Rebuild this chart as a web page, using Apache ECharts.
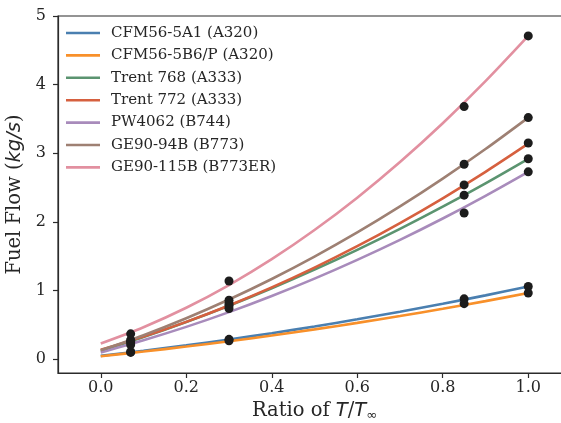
<!DOCTYPE html>
<html>
<head>
<meta charset="utf-8">
<script src="https://cdn.jsdelivr.net/npm/echarts@6/dist/echarts.min.js"></script>
<style>html,body{margin:0;padding:0;background:#fff;overflow:hidden}#c{width:561px;height:423px}</style>
</head>
<body>
<div id="c"></div>
<script>
// Data
var engines = ['CFM56-5A1 (A320)', 'CFM56-5B6/P (A320)', 'Trent 768 (A333)', 'Trent 772 (A333)', 'PW4062 (B744)', 'GE90-94B (B773)', 'GE90-115B (B773ER)'];
var xFit = [0, 0.1, 0.2, 0.3, 0.4, 0.5, 0.6, 0.7, 0.8, 0.9, 1.0];
var xPts = [0.07, 0.3, 0.85, 1.0];
var fitCFM565A1 = [0.05, 0.123, 0.203, 0.288, 0.380, 0.478, 0.582, 0.692, 0.808, 0.931, 1.06];
var fitCFM565B6 = [0.045, 0.112, 0.185, 0.262, 0.346, 0.435, 0.530, 0.630, 0.735, 0.847, 0.965];
var fitTrent768 = [0.12, 0.323, 0.542, 0.779, 1.034, 1.305, 1.594, 1.899, 2.222, 2.563, 2.92];
var fitTrent772 = [0.14, 0.330, 0.545, 0.784, 1.047, 1.335, 1.647, 1.984, 2.345, 2.730, 3.14];
var fitPW4062 = [0.10, 0.277, 0.472, 0.687, 0.922, 1.175, 1.448, 1.739, 2.050, 2.381, 2.73];
var fitGE9094B = [0.13, 0.350, 0.597, 0.870, 1.169, 1.495, 1.847, 2.226, 2.631, 3.062, 3.52];
var fitGE90115B = [0.23, 0.467, 0.750, 1.081, 1.458, 1.883, 2.354, 2.873, 3.438, 4.051, 4.71];
var ptsCFM565A1 = [0.11, 0.29, 0.88, 1.06];
var ptsCFM565B6 = [0.10, 0.27, 0.81, 0.965];
var ptsTrent768 = [0.25, 0.78, 2.39, 2.92];
var ptsTrent772 = [0.26, 0.81, 2.54, 3.15];
var ptsPW4062 = [0.21, 0.74, 2.13, 2.73];
var ptsGE9094B = [0.28, 0.86, 2.84, 3.52];
var ptsGE90115B = [0.37, 1.14, 3.68, 4.71];
var xTicks = [0, 0.2, 0.4, 0.6, 0.8, 1.0];
var yTicks = [0, 1, 2, 3, 4, 5];

var fits = [fitCFM565A1, fitCFM565B6, fitTrent768, fitTrent772, fitPW4062, fitGE9094B, fitGE90115B];
var pts = [ptsCFM565A1, ptsCFM565B6, ptsTrent768, ptsTrent772, ptsPW4062, ptsGE9094B, ptsGE90115B];
var colors = ['#4a7fb0', '#f8902a', '#5b9470', '#d6603f', '#a88bbb', '#9e8073', '#e290a0'];

function zip(xs, ys) { return xs.map(function (x, i) { return [x, ys[i]]; }); }

var serif = 'DejaVu Serif';
var series = [];
engines.forEach(function (name, i) {
  series.push({
    name: name, type: 'line', data: zip(xFit, fits[i]), smooth: 0.3,
    showSymbol: false, symbol: 'none',
    lineStyle: { color: colors[i], width: 2.6 }, itemStyle: { color: colors[i] },
    z: 2
  });
});
engines.forEach(function (name, i) {
  series.push({
    name: 'pts' + i, type: 'scatter', data: zip(xPts, pts[i]),
    symbolSize: 9, itemStyle: { color: '#1c1c1c', opacity: 1 }, z: 3
  });
});

var chart = echarts.init(document.getElementById('c'), null, { renderer: 'canvas' });
chart.setOption({
  animation: false,
  backgroundColor: '#fff',
  grid: { left: 58, top: 16, width: 513, height: 357, show: true, borderColor: '#2b2b2b', borderWidth: 1.2,
          containLabel: false, outerBoundsMode: 'none' },
  legend: {
    data: engines, orient: 'vertical', left: 61, top: 20,
    icon: 'rect', itemWidth: 34, itemHeight: 2.6, itemGap: 6.4,
    textStyle: { fontFamily: serif, fontSize: 15, color: '#262626', lineHeight: 16, padding: [0, 0, 0, 6] }
  },
  xAxis: {
    type: 'value', min: -0.1, max: 1.1,
    name: 'Ratio of {i|T}/{i|T}{s|∞}', nameLocation: 'middle', nameGap: 26,
    nameTextStyle: { fontFamily: serif, fontSize: 19.5, color: '#262626',
      rich: { i: { fontFamily: 'DejaVu Sans', fontStyle: 'italic', fontSize: 19.5, color: '#262626' },
              s: { fontFamily: 'DejaVu Sans', fontSize: 13, color: '#262626', padding: [9, 0, 0, 0] } } },
    axisLine: { show: true, onZero: false, lineStyle: { color: '#2b2b2b', width: 1.2 } },
    axisTick: { show: true, length: 5, customValues: xTicks, lineStyle: { color: '#2b2b2b', width: 1.2 } },
    axisLabel: { customValues: xTicks, fontFamily: serif, fontSize: 16, color: '#262626', margin: 7,
      formatter: function (v) { return v.toFixed(1); } },
    splitLine: { show: false }
  },
  yAxis: {
    type: 'value', min: -0.2, max: 5,
    name: 'Fuel Flow ({i|kg/s})', nameLocation: 'middle', nameGap: 21, nameRotate: 90,
    nameTextStyle: { fontFamily: serif, fontSize: 19.5, color: '#262626',
      rich: { i: { fontFamily: 'DejaVu Sans', fontStyle: 'italic', fontSize: 19.5, color: '#262626' } } },
    axisLine: { show: true, onZero: false, lineStyle: { color: '#2b2b2b', width: 1.2 } },
    axisTick: { show: true, length: 5, customValues: yTicks, lineStyle: { color: '#2b2b2b', width: 1.2 } },
    axisLabel: { customValues: yTicks, fontFamily: serif, fontSize: 16, color: '#262626', margin: 12 },
    splitLine: { show: false }
  },
  series: series
});
</script>
</body>
</html>
